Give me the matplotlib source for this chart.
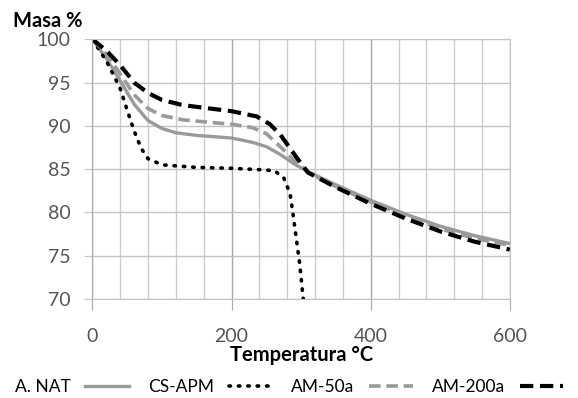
import matplotlib.pyplot as plt
from matplotlib.ticker import MultipleLocator

# temperatures (C) and mass (%)
t_nat = [0, 20, 40, 60, 80, 100, 120, 150, 200, 230, 250, 270, 290, 310, 350, 400, 450, 500, 550, 600]
m_nat = [100, 97.8, 95.2, 92.5, 90.6, 89.7, 89.2, 88.9, 88.6, 88.1, 87.6, 86.7, 85.6, 84.7, 83.2, 81.4, 79.8, 78.4, 77.3, 76.4]

t_cs = [0, 20, 40, 50, 60, 70, 80, 100, 150, 200, 250, 262, 275, 284, 288, 293, 298, 303]
m_cs = [100, 97.5, 94.3, 91.8, 89.4, 87.4, 86.2, 85.5, 85.2, 85.1, 84.9, 84.8, 84.0, 82.2, 80.0, 77.0, 74.0, 70.0]

t_50 = [0, 20, 40, 60, 80, 100, 130, 170, 200, 230, 250, 270, 290, 310, 350, 400, 450, 500, 550, 600]
m_50 = [100, 98.3, 96.0, 93.6, 92.0, 91.2, 90.7, 90.4, 90.2, 89.8, 89.1, 87.6, 86.0, 84.6, 83.0, 81.2, 79.6, 78.1, 77.0, 76.2]

t_200 = [0, 20, 40, 60, 80, 100, 130, 170, 200, 236, 255, 270, 293, 310, 350, 400, 450, 500, 550, 600]
m_200 = [100, 98.7, 97.0, 95.0, 93.8, 93.0, 92.4, 92.0, 91.7, 91.1, 90.2, 89.0, 86.4, 84.6, 82.9, 81.0, 79.3, 77.8, 76.6, 75.7]

plt.rcParams['font.family'] = ['Lato', 'DejaVu Sans']

fig = plt.figure(figsize=(5.78, 3.98), dpi=100)
ax = fig.add_axes([0.160, 0.249, 0.722, 0.652])

gray = '#9a9a9a'
ax.plot(t_nat, m_nat, color=gray, lw=2.4, label='A. NAT')
ax.plot(t_cs, m_cs, color='black', lw=2.6, linestyle=(0, (0.4, 2.2)),
        dash_capstyle='round', label='CS-APM')
ax.plot(t_50, m_50, color=gray, lw=2.6, linestyle=(0, (3.2, 1.6)), label='AM-50a')
ax.plot(t_200, m_200, color='black', lw=3.0, linestyle=(0, (3.2, 1.6)), label='AM-200a')

ax.set_xlim(0, 600)
ax.set_ylim(70, 100)
ax.set_xticks([0, 200, 400, 600])
ax.xaxis.set_minor_locator(MultipleLocator(40))
ax.set_yticks(range(70, 101, 5))
ax.grid(which='minor', axis='x', color='#cccccc', lw=1.0)
ax.grid(which='major', axis='x', color='#a8a8a8', lw=1.0)
ax.grid(which='major', axis='y', color='#c4c4c4', lw=1.0)
ax.set_axisbelow(True)
for s in ax.spines.values():
    s.set_color('#c4c4c4')
ax.spines['left'].set_color('#a8a8a8')
ax.tick_params(axis='x', which='major', length=8, color='#a8a8a8', pad=13,
               labelsize=14, labelcolor='#555555')
ax.tick_params(axis='x', which='minor', length=0)
ax.tick_params(axis='y', length=6, color='#c4c4c4', pad=10,
               labelsize=14, labelcolor='#555555')

ax.set_xlabel('Temperatura °C', fontsize=14.5, fontweight='bold', labelpad=0)
fig.text(0.022, 0.947, 'Masa %', fontsize=14.5, fontweight='bold', ha='left', va='center')

fig.legend(loc='center', bbox_to_anchor=(0.5, 0.028), ncol=4, frameon=False,
           markerfirst=False, fontsize=12.5, handlelength=2.5, columnspacing=1.1,
           handletextpad=0.85)

fig.savefig('out.png', dpi=100)
